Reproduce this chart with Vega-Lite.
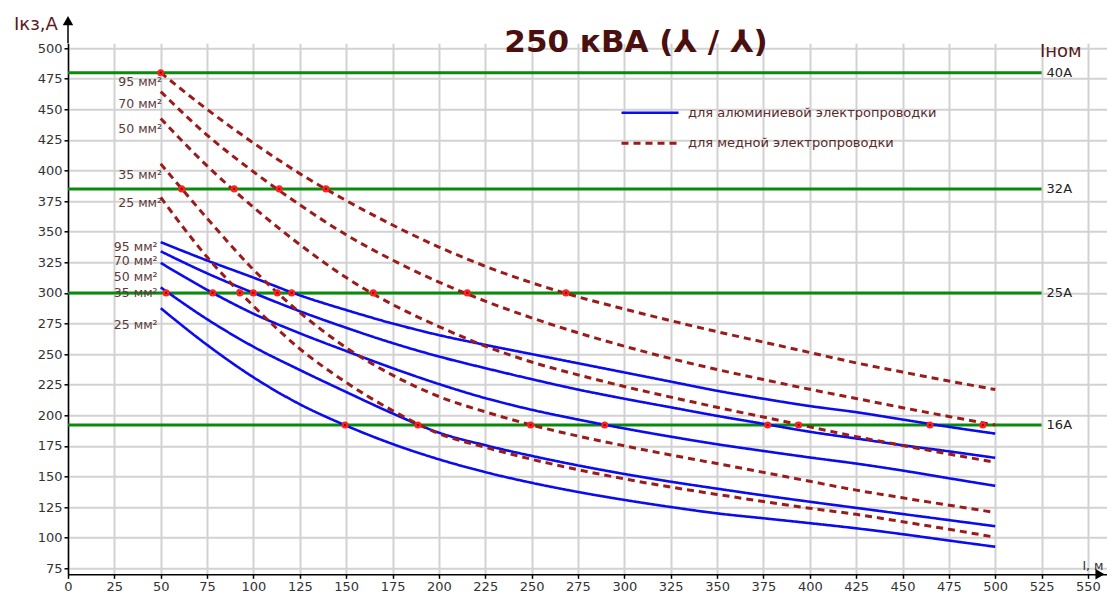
{
  "$schema": "https://vega.github.io/schema/vega-lite/v6.json",
  "width": 1038.5,
  "height": 531,
  "autosize": {"type": "none"},
  "padding": {"left": 68, "top": 43.3, "right": 0, "bottom": 19.7},
  "background": "white",
  "config": {
    "view": {"stroke": null},
    "axis": {
      "grid": true, "gridColor": "#d2d2d2", "gridWidth": 2,
      "domainColor": "#000", "domainWidth": 1.5, "tickColor": "#000", "tickSize": 4, "tickWidth": 1.5,
      "labelFont": "DejaVu Sans", "labelFontSize": 13, "labelColor": "#333", "labelPadding": 2,
      "labelFlush": false, "labelOverlap": false, "title": null, "tickCount": 40
    },
    "legend": {
      "orient": "none", "legendX": 573, "legendY": 61, "title": null,
      "symbolType": "M-4,0H4", "symbolSize": 203, "symbolStrokeWidth": 3,
      "labelFont": "DejaVu Sans", "labelFontSize": 13, "labelColor": "#5a2a2a",
      "labelOffset": 29, "rowPadding": 14, "labelLimit": 500
    }
  },
  "datasets": {
    "curves": [
      {"m":"Al","s":95,"x":50,"y":341.5},{"m":"Al","s":95,"x":75,"y":326.5},{"m":"Al","s":95,"x":100,"y":312.5},{"m":"Al","s":95,"x":125,"y":298},{"m":"Al","s":95,"x":150,"y":286},{"m":"Al","s":95,"x":175,"y":275},{"m":"Al","s":95,"x":200,"y":265.5},{"m":"Al","s":95,"x":225,"y":257.5},{"m":"Al","s":95,"x":250,"y":250},{"m":"Al","s":95,"x":275,"y":242.5},{"m":"Al","s":95,"x":300,"y":235},{"m":"Al","s":95,"x":325,"y":227.5},{"m":"Al","s":95,"x":350,"y":220},{"m":"Al","s":95,"x":375,"y":213.5},{"m":"Al","s":95,"x":400,"y":207.5},{"m":"Al","s":95,"x":425,"y":202.5},{"m":"Al","s":95,"x":450,"y":196.5},{"m":"Al","s":95,"x":475,"y":190.5},{"m":"Al","s":95,"x":500,"y":185},
      {"m":"Al","s":70,"x":50,"y":334},{"m":"Al","s":70,"x":75,"y":316},{"m":"Al","s":70,"x":100,"y":300},{"m":"Al","s":70,"x":125,"y":285},{"m":"Al","s":70,"x":150,"y":271.5},{"m":"Al","s":70,"x":175,"y":259},{"m":"Al","s":70,"x":200,"y":248},{"m":"Al","s":70,"x":225,"y":238.5},{"m":"Al","s":70,"x":250,"y":229.5},{"m":"Al","s":70,"x":275,"y":221},{"m":"Al","s":70,"x":300,"y":213.5},{"m":"Al","s":70,"x":325,"y":206.5},{"m":"Al","s":70,"x":350,"y":199.5},{"m":"Al","s":70,"x":375,"y":193},{"m":"Al","s":70,"x":400,"y":186.5},{"m":"Al","s":70,"x":425,"y":181},{"m":"Al","s":70,"x":450,"y":175.5},{"m":"Al","s":70,"x":475,"y":170.5},{"m":"Al","s":70,"x":500,"y":165.2},
      {"m":"Al","s":50,"x":50,"y":324.5},{"m":"Al","s":50,"x":75,"y":302.5},{"m":"Al","s":50,"x":100,"y":283},{"m":"Al","s":50,"x":125,"y":267},{"m":"Al","s":50,"x":150,"y":252.5},{"m":"Al","s":50,"x":175,"y":238.5},{"m":"Al","s":50,"x":200,"y":225.5},{"m":"Al","s":50,"x":225,"y":214},{"m":"Al","s":50,"x":250,"y":204.5},{"m":"Al","s":50,"x":275,"y":196.5},{"m":"Al","s":50,"x":300,"y":189.2},{"m":"Al","s":50,"x":325,"y":182.5},{"m":"Al","s":50,"x":350,"y":176.3},{"m":"Al","s":50,"x":375,"y":170.8},{"m":"Al","s":50,"x":400,"y":165.5},{"m":"Al","s":50,"x":425,"y":160.5},{"m":"Al","s":50,"x":450,"y":154.8},{"m":"Al","s":50,"x":475,"y":148.5},{"m":"Al","s":50,"x":500,"y":142.3},
      {"m":"Al","s":35,"x":50,"y":304.5},{"m":"Al","s":35,"x":75,"y":278.5},{"m":"Al","s":35,"x":100,"y":256},{"m":"Al","s":35,"x":125,"y":237},{"m":"Al","s":35,"x":150,"y":219},{"m":"Al","s":35,"x":175,"y":201.5},{"m":"Al","s":35,"x":200,"y":185.8},{"m":"Al","s":35,"x":225,"y":175.5},{"m":"Al","s":35,"x":250,"y":166.8},{"m":"Al","s":35,"x":275,"y":159},{"m":"Al","s":35,"x":300,"y":152},{"m":"Al","s":35,"x":325,"y":145.7},{"m":"Al","s":35,"x":350,"y":140},{"m":"Al","s":35,"x":375,"y":134.5},{"m":"Al","s":35,"x":400,"y":129.3},{"m":"Al","s":35,"x":425,"y":124.3},{"m":"Al","s":35,"x":450,"y":119.3},{"m":"Al","s":35,"x":475,"y":114.3},{"m":"Al","s":35,"x":500,"y":109.3},
      {"m":"Al","s":25,"x":50,"y":287.5},{"m":"Al","s":25,"x":75,"y":257.5},{"m":"Al","s":25,"x":100,"y":231},{"m":"Al","s":25,"x":125,"y":209},{"m":"Al","s":25,"x":150,"y":191.5},{"m":"Al","s":25,"x":175,"y":176.5},{"m":"Al","s":25,"x":200,"y":164},{"m":"Al","s":25,"x":225,"y":153.5},{"m":"Al","s":25,"x":250,"y":144.8},{"m":"Al","s":25,"x":275,"y":137.3},{"m":"Al","s":25,"x":300,"y":130.8},{"m":"Al","s":25,"x":325,"y":125},{"m":"Al","s":25,"x":350,"y":119.8},{"m":"Al","s":25,"x":375,"y":115.8},{"m":"Al","s":25,"x":400,"y":111.8},{"m":"Al","s":25,"x":425,"y":107.6},{"m":"Al","s":25,"x":450,"y":102.8},{"m":"Al","s":25,"x":475,"y":97.6},{"m":"Al","s":25,"x":500,"y":92.5},
      {"m":"Cu","s":95,"x":50,"y":480},{"m":"Cu","s":95,"x":75,"y":450},{"m":"Cu","s":95,"x":100,"y":422.5},{"m":"Cu","s":95,"x":125,"y":397.5},{"m":"Cu","s":95,"x":150,"y":375.5},{"m":"Cu","s":95,"x":175,"y":355.5},{"m":"Cu","s":95,"x":200,"y":337.5},{"m":"Cu","s":95,"x":225,"y":321.8},{"m":"Cu","s":95,"x":250,"y":308.3},{"m":"Cu","s":95,"x":275,"y":296.8},{"m":"Cu","s":95,"x":300,"y":286.8},{"m":"Cu","s":95,"x":325,"y":277.3},{"m":"Cu","s":95,"x":350,"y":268.3},{"m":"Cu","s":95,"x":375,"y":259.8},{"m":"Cu","s":95,"x":400,"y":251.3},{"m":"Cu","s":95,"x":425,"y":242.8},{"m":"Cu","s":95,"x":450,"y":235.3},{"m":"Cu","s":95,"x":475,"y":228},{"m":"Cu","s":95,"x":500,"y":221},
      {"m":"Cu","s":70,"x":50,"y":464.5},{"m":"Cu","s":70,"x":75,"y":429},{"m":"Cu","s":70,"x":100,"y":399},{"m":"Cu","s":70,"x":125,"y":372},{"m":"Cu","s":70,"x":150,"y":347.5},{"m":"Cu","s":70,"x":175,"y":326.8},{"m":"Cu","s":70,"x":200,"y":308.8},{"m":"Cu","s":70,"x":225,"y":293.3},{"m":"Cu","s":70,"x":250,"y":279.6},{"m":"Cu","s":70,"x":275,"y":267.4},{"m":"Cu","s":70,"x":300,"y":256.4},{"m":"Cu","s":70,"x":325,"y":246.4},{"m":"Cu","s":70,"x":350,"y":237.4},{"m":"Cu","s":70,"x":375,"y":229.2},{"m":"Cu","s":70,"x":400,"y":221.2},{"m":"Cu","s":70,"x":425,"y":213.7},{"m":"Cu","s":70,"x":450,"y":206.2},{"m":"Cu","s":70,"x":475,"y":199},{"m":"Cu","s":70,"x":500,"y":192},
      {"m":"Cu","s":50,"x":50,"y":442.5},{"m":"Cu","s":50,"x":75,"y":403.8},{"m":"Cu","s":50,"x":100,"y":370},{"m":"Cu","s":50,"x":125,"y":339.5},{"m":"Cu","s":50,"x":150,"y":312.5},{"m":"Cu","s":50,"x":175,"y":290.5},{"m":"Cu","s":50,"x":200,"y":272.5},{"m":"Cu","s":50,"x":225,"y":256.5},{"m":"Cu","s":50,"x":250,"y":243.5},{"m":"Cu","s":50,"x":275,"y":233},{"m":"Cu","s":50,"x":300,"y":223.5},{"m":"Cu","s":50,"x":325,"y":214.8},{"m":"Cu","s":50,"x":350,"y":206.5},{"m":"Cu","s":50,"x":375,"y":198.5},{"m":"Cu","s":50,"x":400,"y":190.5},{"m":"Cu","s":50,"x":425,"y":182.5},{"m":"Cu","s":50,"x":450,"y":175.3},{"m":"Cu","s":50,"x":475,"y":168.3},{"m":"Cu","s":50,"x":500,"y":161.6},
      {"m":"Cu","s":35,"x":50,"y":405.5},{"m":"Cu","s":35,"x":75,"y":361},{"m":"Cu","s":35,"x":100,"y":319},{"m":"Cu","s":35,"x":125,"y":284},{"m":"Cu","s":35,"x":150,"y":255.3},{"m":"Cu","s":35,"x":175,"y":232.8},{"m":"Cu","s":35,"x":200,"y":215.3},{"m":"Cu","s":35,"x":225,"y":202.8},{"m":"Cu","s":35,"x":250,"y":192},{"m":"Cu","s":35,"x":275,"y":183},{"m":"Cu","s":35,"x":300,"y":175},{"m":"Cu","s":35,"x":325,"y":167.5},{"m":"Cu","s":35,"x":350,"y":160.5},{"m":"Cu","s":35,"x":375,"y":153.3},{"m":"Cu","s":35,"x":400,"y":146},{"m":"Cu","s":35,"x":425,"y":138.8},{"m":"Cu","s":35,"x":450,"y":132.5},{"m":"Cu","s":35,"x":475,"y":126.5},{"m":"Cu","s":35,"x":500,"y":120.5},
      {"m":"Cu","s":25,"x":50,"y":378},{"m":"Cu","s":25,"x":75,"y":329.3},{"m":"Cu","s":25,"x":100,"y":289.3},{"m":"Cu","s":25,"x":125,"y":254.3},{"m":"Cu","s":25,"x":150,"y":226.8},{"m":"Cu","s":25,"x":175,"y":203.8},{"m":"Cu","s":25,"x":200,"y":185},{"m":"Cu","s":25,"x":225,"y":173.8},{"m":"Cu","s":25,"x":250,"y":164},{"m":"Cu","s":25,"x":275,"y":155.5},{"m":"Cu","s":25,"x":300,"y":148},{"m":"Cu","s":25,"x":325,"y":141.3},{"m":"Cu","s":25,"x":350,"y":135.3},{"m":"Cu","s":25,"x":375,"y":129.5},{"m":"Cu","s":25,"x":400,"y":124},{"m":"Cu","s":25,"x":425,"y":119},{"m":"Cu","s":25,"x":450,"y":113},{"m":"Cu","s":25,"x":475,"y":106.8},{"m":"Cu","s":25,"x":500,"y":100.3}
    ],
    "dots": [
      {"x":50,"y":480},{"x":61.3,"y":385},{"x":89.6,"y":385},{"x":113.9,"y":385},{"x":139.1,"y":385},
      {"x":52.9,"y":300},{"x":78,"y":300},{"x":92.7,"y":300},{"x":99.9,"y":300},{"x":112.9,"y":300},{"x":120.6,"y":300},{"x":164.6,"y":300},{"x":215.3,"y":300},{"x":268.5,"y":300},
      {"x":149.4,"y":192},{"x":188.7,"y":192},{"x":249.5,"y":192},{"x":289.4,"y":192},{"x":377.3,"y":192},{"x":394,"y":192},{"x":464.8,"y":192},{"x":493.3,"y":192}
    ],
    "levels": [
      {"y":480,"label":"40A"},{"y":385,"label":"32A"},{"y":300,"label":"25A"},{"y":192,"label":"16A"}
    ],
    "cuLabels": [
      {"y":472.2,"label":"95 мм²"},{"y":454.6,"label":"70 мм²"},{"y":434.1,"label":"50 мм²"},{"y":396.5,"label":"35 мм²"},{"y":373.1,"label":"25 мм²"}
    ],
    "alLabels": [
      {"y":337.4,"label":"95 мм²"},{"y":325.7,"label":"70 мм²"},{"y":312.8,"label":"50 мм²"},{"y":300.3,"label":"35 мм²"},{"y":273.9,"label":"25 мм²"}
    ]
  },
  "layer": [
    {
      "data": {"name": "levels"},
      "mark": {"type": "rule", "color": "#0a8a0a", "strokeWidth": 3},
      "encoding": {
        "x": {"datum": 0, "type": "quantitative", "scale": {"domain": [0, 560], "nice": false, "zero": false},
              "axis": {"values": [0,25,50,75,100,125,150,175,200,225,250,275,300,325,350,375,400,425,450,475,500,525,550]}},
        "x2": {"datum": 525},
        "y": {"field": "y", "type": "quantitative", "scale": {"domain": [70, 504], "nice": false, "zero": false},
              "axis": {"values": [75,100,125,150,175,200,225,250,275,300,325,350,375,400,425,450,475,500]}}
      }
    },
    {
      "data": {"name": "curves"},
      "mark": {"type": "line", "interpolate": "monotone"},
      "encoding": {
        "x": {"field": "x", "type": "quantitative"},
        "y": {"field": "y", "type": "quantitative"},
        "detail": {"field": "s"},
        "color": {"field": "m", "type": "nominal",
                  "scale": {"domain": ["Al", "Cu"], "range": ["#0b0bf0", "#9b1b1b"]},
                  "legend": {"labelExpr": "datum.label == 'Al' ? 'для алюминиевой электропроводки' : 'для медной электропроводки'"}},
        "strokeDash": {"field": "m", "type": "nominal",
                  "scale": {"domain": ["Al", "Cu"], "range": [[1, 0], [7, 5]]},
                  "legend": {"labelExpr": "datum.label == 'Al' ? 'для алюминиевой электропроводки' : 'для медной электропроводки'"}},
        "strokeWidth": {"field": "m", "type": "nominal",
                  "scale": {"domain": ["Al", "Cu"], "range": [2.6, 3]}, "legend": null}
      }
    },
    {
      "data": {"name": "dots"},
      "mark": {"type": "point", "filled": true, "shape": "circle", "color": "#ff2020", "size": 50, "opacity": 1},
      "encoding": {
        "x": {"field": "x", "type": "quantitative"},
        "y": {"field": "y", "type": "quantitative"}
      }
    },
    {
      "data": {"name": "dots"},
      "mark": {"type": "point", "filled": true, "shape": "circle", "color": "#7a0000", "size": 5, "opacity": 1},
      "encoding": {
        "x": {"field": "x", "type": "quantitative"},
        "y": {"field": "y", "type": "quantitative"}
      }
    },
    {
      "data": {"name": "levels"},
      "mark": {"type": "text", "align": "left", "baseline": "middle", "font": "DejaVu Sans", "fontSize": 13, "color": "#222"},
      "encoding": {
        "x": {"datum": 527.7, "type": "quantitative"},
        "y": {"field": "y", "type": "quantitative"},
        "text": {"field": "label"}
      }
    },
    {
      "data": {"name": "cuLabels"},
      "mark": {"type": "text", "align": "right", "baseline": "middle", "font": "DejaVu Sans", "fontSize": 12.5, "color": "#5c3a3a"},
      "encoding": {
        "x": {"datum": 50.7, "type": "quantitative"},
        "y": {"field": "y", "type": "quantitative"},
        "text": {"field": "label"}
      }
    },
    {
      "data": {"name": "alLabels"},
      "mark": {"type": "text", "align": "right", "baseline": "middle", "font": "DejaVu Sans", "fontSize": 12.5, "color": "#5c3a3a"},
      "encoding": {
        "x": {"datum": 48.3, "type": "quantitative"},
        "y": {"field": "y", "type": "quantitative"},
        "text": {"field": "label"}
      }
    },
    {
      "data": {"values": [{}]},
      "mark": {"type": "text", "align": "center", "baseline": "alphabetic", "font": "DejaVu Sans", "fontWeight": "bold", "fontSize": 31, "color": "#4a0f0f", "text": "250 кВА (⅄ / ⅄)"},
      "encoding": {
        "x": {"datum": 306.3, "type": "quantitative"},
        "y": {"datum": 496.5, "type": "quantitative"}
      }
    },
    {
      "data": {"values": [{}]},
      "mark": {"type": "text", "align": "center", "baseline": "alphabetic", "font": "DejaVu Sans", "fontSize": 18, "color": "#5a1a1a", "text": "Iкз,A"},
      "encoding": {
        "x": {"datum": -17.3, "type": "quantitative"},
        "y": {"datum": 514.5, "type": "quantitative"}
      }
    },
    {
      "data": {"values": [{}]},
      "mark": {"type": "text", "align": "left", "baseline": "alphabetic", "font": "DejaVu Sans", "fontSize": 18, "color": "#5a1a1a", "text": "Iном"},
      "encoding": {
        "x": {"datum": 524.1, "type": "quantitative"},
        "y": {"datum": 492.4, "type": "quantitative"}
      }
    },
    {
      "data": {"values": [{}]},
      "mark": {"type": "text", "align": "left", "baseline": "alphabetic", "font": "DejaVu Sans", "fontSize": 12.5, "color": "#333", "text": "I, м"},
      "encoding": {
        "x": {"datum": 547, "type": "quantitative"},
        "y": {"datum": 73.5, "type": "quantitative"}
      }
    },
    {
      "data": {"values": [{}]},
      "mark": {"type": "rule", "color": "#000", "strokeWidth": 1.5},
      "encoding": {
        "x": {"datum": 0, "type": "quantitative"},
        "y": {"datum": 504, "type": "quantitative"},
        "y2": {"datum": 522}
      }
    },
    {
      "data": {"values": [{}]},
      "mark": {"type": "point", "shape": "triangle-up", "filled": true, "color": "#000", "size": 110, "opacity": 1},
      "encoding": {
        "x": {"datum": 0, "type": "quantitative"},
        "y": {"datum": 522.5, "type": "quantitative"}
      }
    },
    {
      "data": {"values": [{}]},
      "mark": {"type": "point", "shape": "triangle-right", "filled": true, "color": "#000", "size": 110, "opacity": 1},
      "encoding": {
        "x": {"datum": 556.5, "type": "quantitative"},
        "y": {"datum": 70, "type": "quantitative"}
      }
    }
  ]
}
